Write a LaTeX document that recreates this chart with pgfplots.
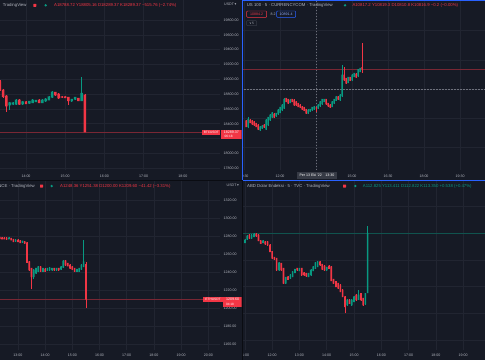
\documentclass[border=0pt]{standalone}
\usepackage{pgfplots}
\pgfplotsset{compat=1.18}
\usepackage{pgfplotstable}
\usepackage{xfp}
\usepackage{fontspec}
\setmainfont{Liberation Sans}
\newfontfamily\symfont{DejaVu Sans}
\definecolor{bg}{RGB}{22,26,37}
\definecolor{gridc}{RGB}{33,37,49}
\definecolor{txt}{RGB}{178,181,190}
\definecolor{upc}{RGB}{8,153,129}
\definecolor{dnc}{RGB}{242,54,69}
\definecolor{selb}{RGB}{41,98,255}
\definecolor{sepc}{RGB}{10,12,18}
\definecolor{tagbg}{RGB}{54,58,69}
\definecolor{chc}{RGB}{110,113,124}

\newcommand\hf{\fontsize{4.3}{5}\selectfont}
\newcommand\tf{\fontsize{3.6}{4}\selectfont}
\newcommand\pf{\fontsize{3.2}{3.6}\selectfont}

\pgfplotstableread{
t o h l c
800 18968 18990 18840 18856
805 18856 18870 18750 18765
810 18775 18790 18563 18640
815 18653 18695 18586 18684
820 18662 18695 18650 18684
825 18662 18730 18650 18721
830 18721 18730 18655 18662
835 18667 18705 18660 18698
840 18698 18705 18665 18671
845 18676 18710 18670 18703
850 18684 18728 18678 18721
855 18698 18725 18692 18717
860 18721 18728 18678 18684
865 18684 18728 18678 18721
870 18707 18742 18700 18734
875 18721 18772 18715 18765
880 18757 18840 18750 18828
885 18825 18835 18780 18788
890 18802 18810 18740 18748
895 18765 18772 18750 18757
900 18765 18770 18745 18752
905 18757 18765 18653 18711
910 18707 18738 18700 18730
915 18730 18765 18724 18757
920 18744 18752 18705 18711
925 18711 19035 18705 18811
930 18788.72 18805.16 18289.37 18289.37
}\btc

\pgfplotstableread{
t o h l c
635 10795.4 10796.6 10783.8 10785.0
640 10785.0 10801.1 10782.2 10797.7
645 10796.5 10797.7 10790.7 10791.9
650 10795.4 10796.6 10788.4 10789.6
655 10793.6 10794.8 10786.7 10787.9
660 10790.8 10792.0 10783.8 10785.0
665 10787.9 10789.1 10779.3 10780.5
670 10779.3 10786.2 10778.1 10785.0
675 10782.2 10787.4 10781.0 10786.2
680 10787.9 10789.1 10782.7 10783.9
685 10780.5 10797.7 10779.3 10796.5
690 10787.9 10802.3 10786.7 10801.1
695 10796.5 10806.3 10795.3 10805.1
700 10801.1 10810.3 10799.9 10809.1
705 10806.8 10808.0 10799.9 10801.1
710 10803.4 10809.2 10802.2 10808.0
715 10806.8 10814.9 10805.6 10813.7
720 10809.1 10819.5 10807.9 10818.3
725 10813.7 10823.5 10812.5 10822.3
730 10816.6 10834.0 10815.4 10832.1
735 10833.8 10835.0 10826.8 10828.0
740 10832.1 10833.3 10824.0 10825.2
745 10826.3 10832.1 10825.1 10830.9
750 10832.1 10833.3 10826.8 10828.0
755 10830.9 10832.1 10821.1 10822.3
760 10828.0 10829.2 10821.1 10822.3
765 10825.2 10826.4 10818.2 10819.4
770 10822.3 10823.5 10817.1 10818.3
775 10819.4 10820.6 10813.7 10814.9
780 10818.3 10819.5 10811.4 10812.6
785 10814.9 10816.1 10806.8 10808.0
790 10808.0 10814.9 10806.8 10813.7
795 10811.4 10816.1 10810.2 10814.9
800 10813.7 10819.5 10812.5 10818.3
805 10814.9 10820.6 10813.7 10819.4
810 10817.2 10819.3 10810.8 10816.9
815 10816.6 10823.5 10815.4 10822.3
820 10820.6 10829.2 10819.4 10828.0
825 10824.0 10833.3 10822.8 10832.1
830 10828.0 10833.3 10826.8 10832.1
835 10832.1 10833.3 10822.8 10824.0
840 10825.2 10826.4 10819.4 10820.6
845 10822.3 10823.5 10817.1 10818.3
850 10819.4 10829.2 10818.2 10828.0
855 10825.2 10833.3 10824.0 10832.1
860 10829.8 10837.9 10828.6 10836.7
865 10836.7 10837.9 10830.9 10832.1
870 10830.9 10840.7 10829.7 10839.5
875 10837.8 10891.1 10836.6 10873.9
880 10873.9 10888.2 10864.1 10865.3
885 10868.2 10869.4 10858.4 10859.6
890 10860.7 10871.1 10859.5 10869.9
895 10869.9 10871.1 10863.0 10864.2
900 10865.3 10875.1 10864.1 10873.9
905 10871.0 10878.0 10869.8 10876.8
910 10875.6 10876.8 10868.7 10869.9
915 10872.2 10884.8 10871.0 10883.6
920 10879.6 10886.6 10878.4 10885.4
925 10887.0 10928.4 10878.0 10884.2
}\ndx

\pgfplotstableread{
t o h l c
740 1278.5 1279.2 1276.5 1277.0
745 1278.1 1278.8 1276.2 1276.7
750 1277.8 1278.4 1276.2 1276.7
755 1277.8 1278.4 1275.8 1276.3
760 1276.7 1278.6 1276.2 1278.1
765 1277.4 1278.0 1275.0 1275.6
770 1276.3 1276.9 1273.2 1273.7
775 1274.1 1276.2 1273.6 1275.6
780 1275.6 1276.1 1273.2 1273.7
785 1274.8 1275.3 1272.0 1272.6
790 1273.0 1274.9 1272.5 1274.4
795 1273.7 1274.2 1271.3 1271.9
800 1272.6 1273.1 1249.8 1250.4
805 1251.5 1252.1 1241.6 1242.2
810 1244.1 1244.7 1220.7 1234.8
815 1234.8 1242.8 1231.9 1242.2
820 1238.5 1244.7 1237.9 1244.1
825 1240.4 1246.5 1239.8 1245.9
830 1245.9 1246.5 1239.8 1240.4
835 1240.4 1244.7 1239.8 1244.1
840 1243.3 1243.9 1239.8 1240.4
845 1241.5 1244.7 1240.9 1244.1
850 1242.2 1245.4 1241.6 1244.8
855 1242.2 1244.7 1241.6 1244.1
860 1244.1 1244.7 1241.6 1242.2
865 1242.2 1244.7 1241.6 1244.1
870 1244.1 1244.7 1241.6 1242.2
875 1243.0 1246.5 1242.4 1245.9
880 1245.2 1252.8 1244.6 1252.2
885 1252.6 1253.2 1247.2 1247.8
890 1249.6 1250.2 1246.1 1246.7
895 1247.8 1248.4 1243.5 1244.1
900 1245.9 1246.5 1242.4 1243.0
905 1244.1 1244.7 1239.8 1240.4
910 1240.4 1243.6 1239.8 1243.0
915 1240.4 1244.7 1239.8 1244.1
920 1243.0 1248.4 1242.4 1247.8
925 1245.9 1275.6 1245.3 1251.5
930 1248.36 1251.38 1200.00 1209.60
}\eth

\pgfplotstableread{
t o h l c
660 113.267 113.297 113.261 113.291
665 113.297 113.332 113.291 113.326
670 113.335 113.341 113.300 113.306
675 113.306 113.341 113.300 113.335
680 113.320 113.350 113.314 113.344
685 113.344 113.352 113.320 113.326
690 113.335 113.341 113.279 113.285
695 113.285 113.291 113.255 113.261
700 113.267 113.291 113.261 113.285
705 113.276 113.282 113.249 113.255
710 113.276 113.282 113.241 113.247
715 113.247 113.253 113.182 113.188
720 113.188 113.194 113.123 113.129
725 113.138 113.144 113.114 113.120
730 113.129 113.135 113.020 113.026
735 113.026 113.096 113.020 113.090
740 113.085 113.091 113.020 113.026
745 113.040 113.046 112.902 112.908
750 112.908 112.967 112.900 112.961
755 112.967 112.973 112.937 112.943
760 112.952 112.987 112.946 112.981
765 112.967 113.017 112.961 113.011
770 113.002 113.038 112.996 113.032
775 113.040 113.046 113.020 113.026
780 113.020 113.046 113.014 113.040
785 113.040 113.046 112.975 112.981
790 113.002 113.008 112.975 112.981
795 112.996 113.002 112.967 112.973
800 112.967 113.002 112.961 112.996
805 112.981 113.032 112.975 113.026
810 113.020 113.061 113.014 113.055
815 113.040 113.096 113.034 113.090
820 113.055 113.105 113.049 113.099
825 113.099 113.105 113.064 113.070
830 113.076 113.082 113.026 113.032
835 113.061 113.067 113.020 113.026
840 113.026 113.055 113.020 113.049
845 113.061 113.067 113.034 113.040
850 113.055 113.061 112.925 112.931
855 112.943 112.949 112.902 112.908
860 112.923 112.929 112.872 112.878
865 112.908 112.914 112.858 112.864
870 112.893 112.899 112.828 112.834
875 112.849 112.855 112.784 112.790
880 112.790 112.796 112.643 112.702
885 112.716 112.766 112.710 112.760
890 112.760 112.766 112.725 112.731
895 112.716 112.766 112.710 112.760
900 112.746 112.796 112.740 112.790
905 112.805 112.811 112.754 112.760
910 112.766 112.849 112.760 112.805
915 112.819 112.825 112.754 112.760
920 112.775 112.781 112.710 112.716
925 112.725 112.825 112.719 112.819
930 112.825 113.411 112.822 113.350
}\dxy

\pgfplotsset{
  panel/.style={
    scale only axis, anchor=south west,
    axis line style={draw=none}, tick style={draw=none},
    major tick length=0pt,
    grid=major, major grid style={draw=gridc, line width=0.6bp},
    /pgf/number format/assume math mode=true,
    scaled ticks=false,
    tick label style={font=\tf, text=txt, inner sep=0pt},
    xticklabel style={anchor=center, yshift=-6bp},
    yticklabel pos=right,
    yticklabel style={anchor=west, xshift=3.5bp, /pgf/number format/.cd, fixed, fixed zerofill, precision=2, 1000 sep={}},
    extra tick style={grid=major, major grid style={draw=gridc, line width=0.6bp}},
    clip=true,
  },
}

% one wick (line) and one body (filled rectangle) per row of the table
% #1 table, #2 last row index, #3 body half width (minutes), #4 extra half body height
\newcommand\candles[4]{%
 \pgfplotsinvokeforeach{0,...,#2}{%
  \pgfplotstablegetelem{##1}{t}\of{#1}\edef\Ct{\pgfplotsretval}%
  \pgfplotstablegetelem{##1}{o}\of{#1}\edef\Co{\pgfplotsretval}%
  \pgfplotstablegetelem{##1}{h}\of{#1}\edef\Ch{\pgfplotsretval}%
  \pgfplotstablegetelem{##1}{l}\of{#1}\edef\Cl{\pgfplotsretval}%
  \pgfplotstablegetelem{##1}{c}\of{#1}\edef\Cc{\pgfplotsretval}%
  \ifnum\fpeval{\Cc>=\Co}=1 \def\Ccol{upc}\else\def\Ccol{dnc}\fi
  \edef\Blo{\fpeval{min(\Co,\Cc)-#4}}%
  \edef\Bhi{\fpeval{max(\Co,\Cc)+#4}}%
  \edef\Xa{\fpeval{\Ct-#3}}%
  \edef\Xb{\fpeval{\Ct+#3}}%
  \edef\tmp{\noexpand\addplot[\Ccol, line width=0.55bp, forget plot] coordinates {(\Ct,\Cl) (\Ct,\Ch)};%
   \noexpand\addplot[fill=\Ccol, draw=none, forget plot] coordinates {(\Xa,\Blo) (\Xb,\Blo) (\Xb,\Bhi) (\Xa,\Bhi) (\Xa,\Blo)};}%
  \tmp
 }%
}

\begin{document}
\begin{tikzpicture}
\path[use as bounding box] (0,0) rectangle (485bp,-360bp);
\fill[bg] (0,0) rectangle (485bp,-360bp);

% ---------------- top left: BTCUSDT
\begin{scope}
\clip (0,0) rectangle (241.5bp,-179.5bp);
\begin{axis}[panel, at={(0bp,-170bp)}, width=220bp, height=170bp,
  xmin=800.2, xmax=1136.9, ymin=17776.5, ymax=20069.8,
  xtick={840,900,960,1020,1080}, xticklabels={14:00,15:00,16:00,17:00,18:00},
  ytick={17800,18000,18400,18600,18800,19000,19200,19400,19600,19800},
  extra y ticks={18200}, extra y tick labels={}]
  \addplot[dnc!45!bg, line width=0.5bp, forget plot] coordinates {(790,18289.37) (1150,18289.37)};
  \candles{\btc}{26}{1.9}{5}
\end{axis}
\node[anchor=west, inner sep=0, font=\hf, text=txt] at (2.7bp,-5.3bp) {TradingView};
\fill[dnc, rounded corners=0.4bp] (33.3bp,-3.8bp) rectangle (36.3bp,-6.8bp);
\fill[upc] (45.7bp,-5.3bp) circle (1.3bp);
\node[anchor=west, inner sep=0, font=\hf, text=dnc] at (54bp,-5.3bp) {A18788.72 Y18805.16 D18289.37 K18289.37 −515.76 (−2.74\%)};
\node[anchor=west, inner sep=0, font=\tf, text=txt] at (224bp,-4bp) {USDT\,{\symfont ▾}};
\fill[dnc] (202.3bp,-130bp) rectangle (220.3bp,-134.7bp);
\node[inner sep=0, font=\pf, text=white] at (211.3bp,-132.35bp) {BTCUSDT};
\fill[dnc] (221bp,-130bp) rectangle (242bp,-139.3bp);
\node[inner sep=0, font=\tf, text=white] at (231.3bp,-132.4bp) {18289.37};
\node[inner sep=0, font=\pf, text=white] at (228.7bp,-136.9bp) {06:18};
\end{scope}

% ---------------- top right: US 100
\begin{scope}
\clip (242.5bp,0) rectangle (485bp,-179.5bp);
\begin{axis}[panel, at={(242.5bp,-170bp)}, width=242.5bp, height=169bp,
  xmin=626.25, xmax=1232.5, ymin=10710.5, ymax=11001.2,
  xtick={630,720,810,900,990,1080,1170}, xticklabels={10:30,12:00,{},15:00,16:30,18:00,19:30},
  ytick={10750,10800,10850,10900,10950}, yticklabels={}]
  \addplot[dnc!45!bg, line width=0.5bp, forget plot] coordinates {(600,10884.2) (1250,10884.2)};
  \addplot[chc, line width=0.5bp, dash pattern=on 1.5bp off 1.5bp, forget plot] coordinates {(600,10849.8) (1250,10849.8)};
  \addplot[chc, line width=0.5bp, dash pattern=on 1.5bp off 1.5bp, forget plot] coordinates {(810,10700) (810,11010)};
  \candles{\ndx}{58}{1.8}{0.6}
\end{axis}
\node[anchor=west, inner sep=0, font=\hf, text=txt] at (246.7bp,-5.3bp) {US 100 · 5 · CURRENCYCOM · TradingView};
\fill[upc] (345bp,-5.3bp) circle (1.3bp);
\node[anchor=west, inner sep=0, font=\hf, text=dnc] at (352.3bp,-5.3bp) {A10817.2 Y10819.3 D10810.8 K10816.9 −0.2 (−0.00\%)};
\draw[dnc, line width=0.45bp, rounded corners=0.8bp] (246.7bp,-11bp) rectangle (266.7bp,-17.3bp);
\node[inner sep=0, font=\tf, text=dnc] at (256.7bp,-14.15bp) {10884.2};
\node[inner sep=0, font=\tf, text=txt] at (273bp,-14.15bp) {8.2};
\draw[selb, line width=0.45bp, rounded corners=0.8bp] (276.7bp,-11bp) rectangle (295.7bp,-17.3bp);
\node[inner sep=0, font=\tf, text=selb!55!white] at (286.2bp,-14.15bp) {10891.4};
\draw[tagbg, line width=0.45bp, rounded corners=0.6bp] (246.7bp,-20.7bp) rectangle (256.7bp,-25.7bp);
\node[inner sep=0, font=\pf, text=txt] at (251.7bp,-23.2bp) {{\symfont ∨}\,5};
\fill[tagbg] (297bp,-172bp) rectangle (337bp,-178.7bp);
\node[inner sep=0, font=\tf, text=white] at (317bp,-175.35bp) {Per 13 Eki '22\quad 13:30};
\end{scope}

% ---------------- bottom left: ETHUSDT
\begin{scope}
\clip (0,-180.5bp) rectangle (241.5bp,-360bp);
\begin{axis}[panel, at={(0bp,-350bp)}, width=220bp, height=169bp,
  xmin=740.5, xmax=1225.8, ymin=1153.3, ymax=1341.1,
  xtick={780,840,900,960,1020,1080,1140,1200}, xticklabels={13:00,14:00,15:00,16:00,17:00,18:00,19:00,20:00},
  xticklabel style={yshift=0.5bp},
  ytick={1160,1180,1200,1220,1240,1260,1280,1300,1320}]
  \addplot[dnc!45!bg, line width=0.5bp, forget plot] coordinates {(700,1209.6) (1250,1209.6)};
  \candles{\eth}{38}{1.8}{0.4}
\end{axis}
\node[anchor=east, inner sep=0, font=\hf, text=txt] at (35bp,-186bp) {BINANCE · TradingView};
\fill[dnc, rounded corners=0.4bp] (40bp,-184.5bp) rectangle (43bp,-187.5bp);
\fill[upc] (51.7bp,-186bp) circle (1.3bp);
\node[anchor=west, inner sep=0, font=\hf, text=dnc] at (60bp,-186bp) {A1248.36 Y1251.38 D1200.00 K1209.60 −41.42 (−3.31\%)};
\node[anchor=west, inner sep=0, font=\tf, text=txt] at (226.5bp,-185bp) {USDT\,{\symfont ▾}};
\fill[dnc] (203.3bp,-296.7bp) rectangle (222.7bp,-301.7bp);
\node[inner sep=0, font=\pf, text=white] at (213bp,-299.2bp) {ETHUSDT};
\fill[dnc] (223.3bp,-296.7bp) rectangle (242bp,-306.7bp);
\node[inner sep=0, font=\tf, text=white] at (232.6bp,-299.3bp) {1209.60};
\node[inner sep=0, font=\pf, text=white] at (230bp,-304.1bp) {04:18};
\end{scope}

% ---------------- bottom right: DXY
\begin{scope}
\clip (242.5bp,-180.5bp) rectangle (485bp,-360bp);
\begin{axis}[panel, at={(242.5bp,-350bp)}, width=242.5bp, height=169bp,
  xmin=654.9, xmax=1187.9, ymin=112.319, ymax=113.812,
  xtick={660,720,780,840,900,960,1020,1080,1140}, xticklabels={11:00,12:00,13:00,14:00,15:00,16:00,17:00,18:00,19:00},
  xticklabel style={yshift=0.5bp},
  ytick={112.407,112.643,112.878,113.114,113.35,113.585}, yticklabels={}]
  \addplot[upc!45!bg, line width=0.5bp, forget plot] coordinates {(600,113.35) (1250,113.35)};
  \candles{\dxy}{54}{1.8}{0.0035}
\end{axis}
\node[anchor=west, inner sep=0, font=\hf, text=txt] at (247bp,-186bp) {ABD Dolar Endeksi · 5 · TVC · TradingView};
\fill[dnc, rounded corners=0.4bp] (343bp,-184.5bp) rectangle (346bp,-187.5bp);
\fill[upc] (355.3bp,-186bp) circle (1.3bp);
\node[anchor=west, inner sep=0, font=\hf, text=upc] at (362.7bp,-186bp) {A112.825 Y113.411 D112.822 K113.350 +0.538 (+0.47\%)};
\end{scope}

% separators and selection border
\draw[sepc, line width=1bp] (0,-180bp) -- (242bp,-180bp);
\draw[sepc, line width=1bp] (242bp,-180bp) -- (242bp,-360bp);
\draw[selb, line width=1bp] (242.5bp,-180bp) -- (242.5bp,-0.5bp) -- (485.5bp,-0.5bp);
\draw[selb, line width=1bp] (242.5bp,-180bp) -- (485.5bp,-180bp);
\end{tikzpicture}
\end{document}
